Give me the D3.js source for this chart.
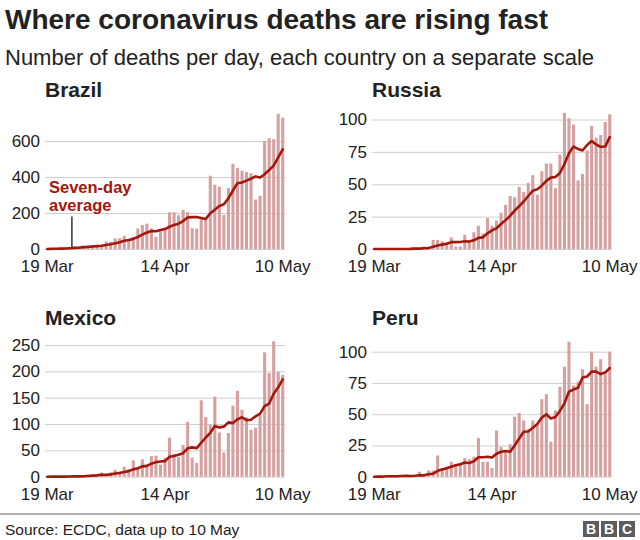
<!DOCTYPE html>
<html><head><meta charset="utf-8">
<script src="https://cdn.jsdelivr.net/npm/d3@7"></script>
<style>
body{margin:0;background:#fff}
svg{display:block}
text{font-family:"Liberation Sans",Arial,Helvetica,sans-serif}
</style>
</head><body>
<svg id="chart" width="640" height="540"></svg>
<script>
// ---------- DATA ----------
const days = ["19 Mar","20 Mar","21 Mar","22 Mar","23 Mar","24 Mar","25 Mar","26 Mar","27 Mar","28 Mar","29 Mar","30 Mar","31 Mar",
"1 Apr","2 Apr","3 Apr","4 Apr","5 Apr","6 Apr","7 Apr","8 Apr","9 Apr","10 Apr","11 Apr","12 Apr","13 Apr","14 Apr","15 Apr","16 Apr","17 Apr","18 Apr","19 Apr","20 Apr","21 Apr","22 Apr","23 Apr","24 Apr","25 Apr","26 Apr","27 Apr","28 Apr","29 Apr","30 Apr",
"1 May","2 May","3 May","4 May","5 May","6 May","7 May","8 May","9 May","10 May"];
const tickLabels = ["19 Mar","14 Apr","10 May"];
const countries = ["Brazil","Russia","Mexico","Peru"];

const brazilDaily = [1,3,3,7,7,9,12,11,20,15,22,22,23,42,40,58,60,73,54,67,114,133,141,115,68,99,105,204,204,188,217,206,115,113,166,165,407,357,346,189,338,474,449,435,428,421,275,296,600,615,610,751,730];
const brazilAvg = [0.3,0.6,1,2,3,4.3,6,7.4,9.9,11.6,13.7,15.9,17.9,22.1,26.3,31.7,38.1,45.4,50,56.3,66.6,79.9,91.7,99.6,98.9,105.3,110.7,123.6,133.7,140.4,155,174.7,177,178.1,172.7,167.1,198.4,218.4,238.4,249,281.1,325.1,365.7,369.7,379.9,390.6,402.9,396.9,414.9,438.6,463.6,509.7,553.9];
const brazilTicks = [0,200,400,600];

const russiaDaily = [0,0,0,0,0,0,0,0,1,1,0,2,1,7,7,6,5,9,2,2,11,5,13,18,12,24,18,22,28,34,41,40,48,44,51,57,42,60,66,66,47,73,105,101,96,53,58,76,95,86,88,98,104];
const russiaAvg = [0,0,0,0,0,0,0,0,0.1,0.3,0.3,0.6,0.7,1.7,2.7,3.4,4,5.3,5.3,5.4,6,5.7,6.7,8.6,9,12.1,14.4,16,19.3,22.3,25.6,29.6,33,36.7,40.9,45,46.1,48.9,52.6,55.1,55.6,58.7,65.6,74,79.1,77.3,76.1,80.3,83.4,80.7,78.9,79.1,86.4];
const russiaTicks = [0,25,50,75,100];

const mexicoDaily = [0,1,0,0,0,2,1,1,2,4,4,4,8,1,8,13,10,19,15,31,16,33,20,39,40,23,36,74,43,37,60,104,36,26,145,113,99,152,84,46,83,135,163,127,113,89,93,117,236,197,257,199,193];
const mexicoAvg = [0,0.1,0.1,0.1,0.1,0.4,0.6,0.7,0.9,1.4,2,2.6,3.4,3.4,4.4,6,6.9,9,10.6,13.9,16,19.6,20.6,24.7,27.7,28.9,29.6,37.9,39.3,41.7,44.7,53.9,55.7,54.3,64.4,74.4,83.3,96.4,93.6,95,103.1,101.7,108.9,112.9,107.3,108,114.7,119.6,134,138.9,157.4,169.7,184.6];
const mexicoTicks = [0,50,100,150,200,250];

const peruDaily = [0,1,0,1,1,0,1,1,0,1,4,1,5,5,17,7,8,12,10,11,15,14,16,31,12,12,7,37,24,21,26,48,51,45,38,45,42,62,66,28,53,72,88,108,73,76,86,58,100,88,94,82,100];
const peruAvg = [0,0.1,0.1,0.3,0.4,0.4,0.6,0.7,0.6,0.7,1.1,1.1,1.9,2.4,4.7,5.7,6.7,7.9,9.1,10,11.4,11,12.3,15.6,15.6,15.9,15.3,18.4,19.9,20.6,19.9,25,30.6,36,36.1,39.1,42.1,47.3,49.9,46.6,47.7,52.6,58.7,68.1,69.7,71.1,79.4,80.1,84.1,84.1,82.1,83.4,86.9];
const peruTicks = [0,25,50,75,100];

// ---------- LAYOUT ----------
const BAR = "#d6a0a0", LINE = "#a3170d", GRID = "#cfcfcf", TEXT = "#222";
const svg = d3.select("#chart");

svg.append("text").attr("x",5).attr("y",29).attr("font-size",28).attr("font-weight","bold").attr("fill",TEXT)
  .text("Where coronavirus deaths are rising fast");
svg.append("text").attr("x",5).attr("y",65).attr("font-size",22).attr("fill",TEXT)
  .text("Number of deaths per day, each country on a separate scale");

const panels = [
  {name:countries[0], daily:brazilDaily, avg:brazilAvg, ticks:brazilTicks, left:45,  base:249,   top:141,   titleY:97},
  {name:countries[1], daily:russiaDaily, avg:russiaAvg, ticks:russiaTicks, left:372, base:249,   top:119.5, titleY:97},
  {name:countries[2], daily:mexicoDaily, avg:mexicoAvg, ticks:mexicoTicks, left:45,  base:476.7, top:345,   titleY:325},
  {name:countries[3], daily:peruDaily,   avg:peruAvg,   ticks:peruTicks,   left:372, base:476.7, top:351.7, titleY:325}
];
const W = 240;

panels.forEach((p, pi) => {
  const g = svg.append("g");
  const x = d3.scaleBand().domain(days).range([p.left, p.left + W]).paddingInner(0.32).paddingOuter(0.16);
  const y = d3.scaleLinear().domain([0, d3.max(p.ticks)]).range([p.base, p.top]);
  const cx = d => x(d) + x.bandwidth()/2;

  g.append("text").attr("x", p.left).attr("y", p.titleY).attr("font-size",21).attr("font-weight","bold")
    .attr("fill",TEXT).text(p.name);

  const ya = g.append("g").attr("transform",`translate(${p.left},0)`)
    .call(d3.axisLeft(y).tickValues(p.ticks).tickSize(-W).tickPadding(5).tickFormat(d3.format("d")));
  ya.select(".domain").remove();
  ya.selectAll(".tick line").attr("stroke",GRID).attr("stroke-width",1);
  ya.selectAll(".tick text").attr("font-size",17).attr("fill",TEXT).style("font-family",'"Liberation Sans",Arial,sans-serif');

  g.append("g").selectAll("rect").data(p.daily).join("rect")
    .attr("x",(d,i)=>x(days[i])).attr("width",x.bandwidth())
    .attr("y",d=>y(d)).attr("height",d=>p.base - y(d))
    .attr("fill",BAR);

  const line = d3.line().x((d,i)=>cx(days[i])).y(d=>y(d));
  g.append("path").datum(p.avg).attr("d",line).attr("fill","none")
    .attr("stroke",LINE).attr("stroke-width",2.6).attr("stroke-linejoin","round").attr("stroke-linecap","round");

  const xa = g.append("g").attr("transform",`translate(0,${p.base})`)
    .call(d3.axisBottom(x).tickValues(tickLabels).tickSize(0).tickPadding(11));
  xa.select(".domain").remove();
  xa.selectAll(".tick text").attr("font-size",17).attr("fill",TEXT).style("font-family",'"Liberation Sans",Arial,sans-serif');

  if (pi === 0) {
    const ax = cx(days[5]) + 2;
    g.append("line").attr("x1",ax).attr("x2",ax).attr("y1",y(180)).attr("y2",p.base-1)
      .attr("stroke","#333").attr("stroke-width",1.5);
    const t = g.append("text").attr("x",p.left+4).attr("font-size",16.5).attr("font-weight","bold").attr("fill",LINE);
    t.append("tspan").attr("x",p.left+4).attr("y",193).text("Seven-day");
    t.append("tspan").attr("x",p.left+4).attr("y",211).text("average");
  }
});

// footer
svg.append("line").attr("x1",0).attr("x2",640).attr("y1",514).attr("y2",514).attr("stroke","#666").attr("stroke-width",1);
svg.append("text").attr("x",5).attr("y",535).attr("font-size",15.5).attr("fill",TEXT).text("Source: ECDC, data up to 10 May");
const logo = svg.append("g");
["B","B","C"].forEach((l,i)=>{
  logo.append("rect").attr("x",583+i*18).attr("y",521).attr("width",16).attr("height",16).attr("fill","#5c5c5c");
  logo.append("text").attr("x",591+i*18).attr("y",534).attr("text-anchor","middle").attr("font-size",14)
    .attr("font-weight","bold").attr("fill","#fff").text(l);
});
</script>
</body></html>
